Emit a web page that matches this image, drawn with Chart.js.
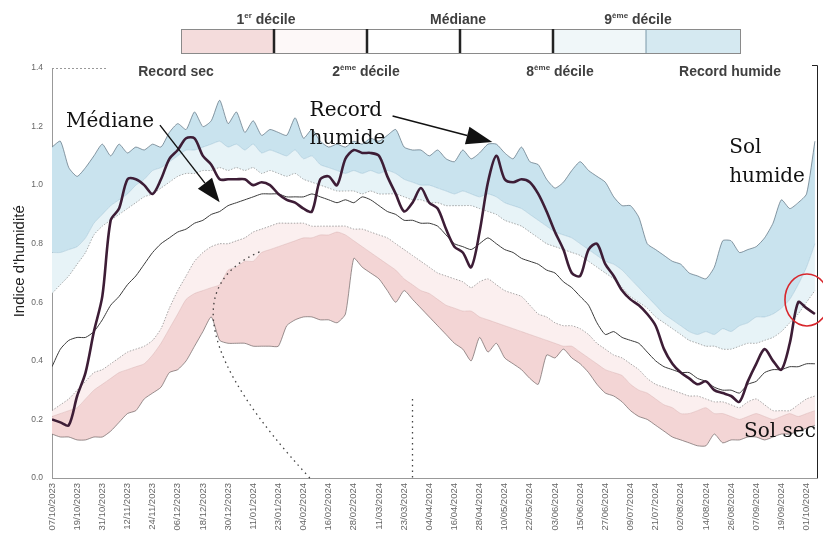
<!DOCTYPE html>
<html lang="fr">
<head>
<meta charset="UTF-8">
<title>Indice d'humidité des sols</title>
<script src="https://cdn.jsdelivr.net/npm/chart.js"></script>
<style>
    html, body { margin: 0; padding: 0; background: #fff; }
    #wrap { position: relative; width: 823px; height: 539px; }
</style>
</head>
<body>
<div id="wrap"><canvas id="sol" width="823" height="539"></canvas></div>
<script>
// un point tous les 4 jours à partir du 07/10/2023
const step = 4;

const tickLabels = ['07/10/2023','19/10/2023','31/10/2023','12/11/2023','24/11/2023','06/12/2023',
    '18/12/2023','30/12/2023','11/01/2024','23/01/2024','04/02/2024','16/02/2024','28/02/2024',
    '11/03/2024','23/03/2024','04/04/2024','16/04/2024','28/04/2024','10/05/2024','22/05/2024',
    '03/06/2024','15/06/2024','27/06/2024','09/07/2024','21/07/2024','02/08/2024','14/08/2024',
    '26/08/2024','07/09/2024','19/09/2024','01/10/2024'];

const recordSec = [0.15,0.14,0.14,0.13,0.13,0.14,0.14,0.16,0.19,0.22,
    0.23,0.27,0.29,0.31,0.36,0.37,0.40,0.45,0.50,0.55,
    0.47,0.46,0.46,0.46,0.45,0.45,0.45,0.45,0.52,0.54,
    0.55,0.55,0.54,0.54,0.53,0.56,0.75,0.72,0.70,0.68,
    0.64,0.60,0.64,0.61,0.58,0.55,0.52,0.49,0.46,0.44,
    0.40,0.48,0.43,0.46,0.41,0.39,0.37,0.34,0.32,0.42,
    0.41,0.44,0.41,0.39,0.36,0.32,0.29,0.28,0.26,0.23,
    0.21,0.20,0.18,0.16,0.14,0.13,0.12,0.11,0.11,0.15,
    0.12,0.13,0.13,0.14,0.14,0.13,0.14,0.15,0.15,0.16,
    0.17,0.18];

const decile1 = [0.21,0.22,0.23,0.24,0.27,0.30,0.32,0.34,0.36,0.37,
    0.38,0.39,0.42,0.46,0.51,0.56,0.61,0.63,0.64,0.65,
    0.66,0.71,0.72,0.74,0.74,0.77,0.78,0.79,0.80,0.81,
    0.82,0.82,0.83,0.83,0.84,0.83,0.81,0.79,0.77,0.75,
    0.73,0.71,0.68,0.66,0.64,0.63,0.61,0.59,0.58,0.57,
    0.57,0.55,0.54,0.53,0.52,0.51,0.50,0.49,0.48,0.47,
    0.46,0.45,0.45,0.43,0.41,0.39,0.37,0.36,0.35,0.32,
    0.30,0.29,0.27,0.25,0.24,0.22,0.22,0.23,0.24,0.22,
    0.22,0.21,0.20,0.21,0.22,0.21,0.20,0.21,0.22,0.21,
    0.22,0.23];

const decile2 = [0.23,0.25,0.27,0.30,0.33,0.36,0.37,0.39,0.41,0.43,
    0.44,0.45,0.47,0.51,0.58,0.64,0.69,0.74,0.77,0.79,
    0.80,0.80,0.81,0.82,0.84,0.85,0.86,0.87,0.87,0.87,
    0.87,0.86,0.86,0.86,0.86,0.86,0.85,0.85,0.84,0.83,
    0.82,0.80,0.78,0.76,0.74,0.72,0.70,0.69,0.68,0.67,
    0.65,0.67,0.68,0.66,0.64,0.63,0.62,0.59,0.56,0.55,
    0.53,0.52,0.52,0.51,0.49,0.46,0.44,0.42,0.41,0.39,
    0.37,0.34,0.32,0.31,0.30,0.29,0.28,0.28,0.27,0.26,
    0.26,0.25,0.24,0.26,0.27,0.25,0.23,0.23,0.23,0.25,
    0.27,0.28];

const mediane = [0.38,0.44,0.47,0.48,0.48,0.50,0.54,0.59,0.62,0.66,
    0.69,0.73,0.77,0.80,0.82,0.84,0.85,0.87,0.88,0.90,
    0.91,0.93,0.94,0.95,0.96,0.97,0.97,0.97,0.96,0.96,
    0.96,0.97,0.96,0.95,0.94,0.95,0.94,0.96,0.95,0.93,
    0.91,0.90,0.88,0.88,0.87,0.87,0.86,0.83,0.80,0.79,
    0.78,0.80,0.82,0.80,0.78,0.77,0.75,0.74,0.73,0.71,
    0.70,0.67,0.65,0.62,0.59,0.53,0.49,0.50,0.48,0.47,
    0.46,0.43,0.40,0.38,0.37,0.36,0.36,0.34,0.33,0.31,
    0.30,0.30,0.29,0.32,0.33,0.36,0.37,0.37,0.38,0.38,
    0.39,0.39];

const decile8 = [0.63,0.66,0.69,0.73,0.77,0.83,0.86,0.88,0.90,0.92,
    0.94,0.96,0.97,0.99,1.01,1.03,1.04,1.04,1.05,1.05,
    1.06,1.05,1.06,1.05,1.06,1.04,1.05,1.04,1.03,1.04,
    1.02,1.01,1.00,0.99,0.98,0.98,0.98,0.97,0.98,0.97,
    0.97,0.97,0.96,0.95,0.95,0.94,0.94,0.93,0.93,0.93,
    0.93,0.92,0.91,0.90,0.88,0.87,0.86,0.84,0.82,0.80,
    0.79,0.78,0.77,0.76,0.74,0.72,0.70,0.68,0.65,0.62,
    0.60,0.58,0.55,0.53,0.51,0.49,0.47,0.46,0.45,0.45,
    0.44,0.44,0.45,0.46,0.46,0.47,0.48,0.50,0.53,0.56,
    0.60,0.64];

const decile9 = [0.77,0.77,0.78,0.79,0.82,0.87,0.90,0.93,0.95,0.97,
    1.00,1.02,1.05,1.06,1.08,1.10,1.12,1.12,1.13,1.14,
    1.15,1.13,1.14,1.12,1.14,1.11,1.12,1.11,1.10,1.12,
    1.09,1.10,1.07,1.06,1.05,1.04,1.05,1.04,1.05,1.04,
    1.05,1.04,1.02,1.01,1.00,1.00,0.99,0.98,0.97,0.98,
    0.97,0.96,0.97,0.96,0.94,0.93,0.92,0.90,0.88,0.86,
    0.84,0.83,0.82,0.80,0.78,0.76,0.74,0.73,0.71,0.68,
    0.65,0.62,0.59,0.56,0.54,0.52,0.50,0.49,0.50,0.49,
    0.51,0.50,0.52,0.53,0.55,0.55,0.56,0.58,0.61,0.66,
    0.72,0.80];

const recordHumide = [1.13,1.15,1.06,1.03,1.06,1.10,1.14,1.10,1.14,1.11,
    1.13,1.12,1.14,1.13,1.18,1.21,1.19,1.25,1.20,1.22,
    1.29,1.21,1.25,1.18,1.22,1.17,1.19,1.18,1.17,1.23,
    1.16,1.19,1.15,1.13,1.14,1.13,1.15,1.14,1.16,1.15,
    1.17,1.19,1.13,1.12,1.12,1.10,1.12,1.09,1.08,1.12,
    1.09,1.11,1.14,1.14,1.11,1.09,1.13,1.08,1.07,1.02,
    0.99,1.01,1.05,1.08,1.05,1.03,1.01,0.96,0.93,0.93,
    0.89,0.80,0.78,0.76,0.74,0.73,0.70,0.69,0.68,0.72,
    0.81,0.81,0.77,0.78,0.79,0.82,0.87,0.95,0.92,0.94,
    0.97,1.15];

// année 2023-2024
const annee = [0.20,0.19,0.18,0.28,0.36,0.50,0.62,0.88,0.92,1.02,
    1.02,1.00,0.97,1.02,1.09,1.12,1.16,1.16,1.10,1.07,
    1.02,1.02,1.02,1.02,1.00,1.01,1.00,0.97,0.95,0.94,
    0.92,0.91,1.02,1.03,1.00,1.09,1.12,1.11,1.11,1.10,
    1.03,0.97,0.91,0.94,0.99,0.94,0.92,0.85,0.79,0.77,
    0.72,0.84,1.01,1.10,1.02,1.01,1.02,1.01,0.97,0.91,
    0.84,0.78,0.70,0.69,0.78,0.80,0.73,0.69,0.64,0.61,
    0.59,0.56,0.52,0.44,0.39,0.36,0.34,0.32,0.33,0.30,
    0.29,0.28,0.26,0.33,0.39,0.44,0.40,0.37,0.46,0.60,
    0.58,0.56];

function pts(arr) {
    return arr.map((v, i) => ({ x: i * step, y: v }));
}

const serif = '"DejaVu Serif", "Liberation Serif", serif';
const sans = '"Liberation Sans", Arial, sans-serif';

// texte avec exposants : [texte, exposant?]
function drawRich(ctx, parts, cx, baseY, size) {
    const fMain = 'bold ' + size + 'px ' + sans;
    const fSup = 'bold ' + Math.round(size * 0.6) + 'px ' + sans;
    let w = 0;
    parts.forEach(p => { ctx.font = p[1] ? fSup : fMain; w += ctx.measureText(p[0]).width; });
    let xx = cx - w / 2;
    parts.forEach(p => {
        ctx.font = p[1] ? fSup : fMain;
        ctx.fillText(p[0], xx, p[1] ? baseY - size * 0.42 : baseY);
        xx += ctx.measureText(p[0]).width;
    });
}

function arrow(ctx, x0, y0, x1, y1, len, half) {
    const ang = Math.atan2(y1 - y0, x1 - x0);
    const bx = x1 - len * Math.cos(ang), by = y1 - len * Math.sin(ang);
    ctx.beginPath();
    ctx.moveTo(x0, y0);
    ctx.lineTo(bx, by);
    ctx.stroke();
    ctx.beginPath();
    ctx.moveTo(x1, y1);
    ctx.lineTo(bx + half * Math.sin(ang), by - half * Math.cos(ang));
    ctx.lineTo(bx - half * Math.sin(ang), by + half * Math.cos(ang));
    ctx.closePath();
    ctx.fill();
}

const decor = {
    id: 'decor',
    afterDraw(chart) {
        const { ctx, chartArea: a, scales: { x, y } } = chart;
        const P = (d, v) => [x.getPixelForValue(d), y.getPixelForValue(v)];
        ctx.save();

        // cadre droit et petit bout de bord haut
        ctx.strokeStyle = '#222';
        ctx.lineWidth = 1;
        ctx.beginPath();
        ctx.moveTo(a.right - 5, a.top - 2.5);
        ctx.lineTo(a.right + 0.5, a.top - 2.5);
        ctx.lineTo(a.right + 0.5, a.bottom);
        ctx.stroke();
        ctx.strokeStyle = '#999';
        ctx.setLineDash([2, 2]);
        ctx.beginPath();
        ctx.moveTo(a.left, a.top + 0.5);
        ctx.lineTo(a.left + 55, a.top + 0.5);
        ctx.stroke();
        ctx.setLineDash([]);

        // légende en barre
        const edges = [181, 274, 367, 460, 553, 646, 740];
        const fills = ['#f4dcdc', '#fdf8f8', '#ffffff', '#ffffff', '#f0f7f9', '#d5e9f1'];
        for (let i = 0; i < 6; i++) {
            ctx.fillStyle = fills[i];
            ctx.fillRect(edges[i], 29, edges[i + 1] - edges[i], 24);
        }
        ctx.strokeStyle = '#8a8a8a';
        ctx.lineWidth = 1;
        ctx.strokeRect(edges[0] + 0.5, 29.5, edges[6] - edges[0], 24);
        ctx.strokeStyle = '#222';
        ctx.lineWidth = 2.5;
        [1, 2, 3, 4].forEach(i => {
            ctx.beginPath();
            ctx.moveTo(edges[i], 29);
            ctx.lineTo(edges[i], 53);
            ctx.stroke();
        });
        ctx.strokeStyle = '#7a98a8';
        ctx.lineWidth = 1;
        ctx.beginPath();
        ctx.moveTo(edges[5], 29);
        ctx.lineTo(edges[5], 53);
        ctx.stroke();

        ctx.fillStyle = '#404040';
        ctx.textAlign = 'left';
        ctx.textBaseline = 'alphabetic';
        drawRich(ctx, [['1', 0], ['er', 1], [' décile', 0]], 266, 24, 14);
        drawRich(ctx, [['Médiane', 0]], 458, 24, 14);
        drawRich(ctx, [['9', 0], ['ème', 1], [' décile', 0]], 638, 24, 14);
        drawRich(ctx, [['Record sec', 0]], 176, 76, 14);
        drawRich(ctx, [['2', 0], ['ème', 1], [' décile', 0]], 366, 76, 14);
        drawRich(ctx, [['8', 0], ['ème', 1], [' décile', 0]], 560, 76, 14);
        drawRich(ctx, [['Record humide', 0]], 730, 76, 14);

        // titre de l'axe Y
        ctx.save();
        const ty = P(0, 0.74)[1];
        ctx.translate(a.left - 33, ty);
        ctx.rotate(-Math.PI / 2);
        ctx.textAlign = 'center';
        ctx.fillStyle = '#222';
        ctx.font = '15px ' + sans;
        ctx.fillText("Indice d'humidité", 0, 5);
        ctx.restore();

        // traits pointillés tracés à la main
        ctx.strokeStyle = 'rgba(20,20,20,0.8)';
        ctx.lineWidth = 1.3;
        ctx.setLineDash([1.5, 4]);
        let p0 = P(99, 0.772), pc = P(45, 0.604), p2 = P(123, 0);
        ctx.beginPath();
        ctx.moveTo(p0[0], p0[1]);
        ctx.quadraticCurveTo(pc[0], pc[1], p2[0], p2[1]);
        ctx.stroke();
        p0 = P(172, 0.27); p2 = P(172, 0);
        ctx.beginPath();
        ctx.moveTo(p0[0], p0[1]);
        ctx.lineTo(p2[0], p2[1]);
        ctx.stroke();
        ctx.setLineDash([]);

        // annotations
        ctx.fillStyle = '#111';
        ctx.strokeStyle = '#111';
        ctx.font = '20px ' + serif;
        ctx.textAlign = 'left';
        let t = P(6.7, 1.199); ctx.fillText('Médiane', t[0], t[1]);
        t = P(122.9, 1.236); ctx.fillText('Record', t[0], t[1]);
        t = P(122.9, 1.14); ctx.fillText('humide', t[0], t[1]);
        t = P(323.1, 1.11); ctx.fillText('Sol', t[0], t[1]);
        t = P(323.1, 1.011); ctx.fillText('humide', t[0], t[1]);
        ctx.save();
        ctx.beginPath();
        ctx.rect(0, 0, a.right, chart.height);
        ctx.clip();
        t = P(330.2, 0.14); ctx.fillText('Sol sec', t[0], t[1]);
        ctx.restore();

        ctx.lineWidth = 1.4;
        let s = P(51.5, 1.205), e = P(80, 0.942);
        arrow(ctx, s[0], s[1], e[0], e[1], 24, 9);
        s = P(162.5, 1.236); e = P(210.1, 1.147);
        arrow(ctx, s[0], s[1], e[0], e[1], 26, 9);

        // cercle rouge en fin de série
        const c = P(360.2, 0.608);
        ctx.strokeStyle = '#d8262c';
        ctx.lineWidth = 1.6;
        ctx.beginPath();
        ctx.ellipse(c[0], c[1], 22, 26, 0, 0, Math.PI * 2);
        ctx.stroke();

        ctx.restore();
    }
};

const bandLine = { pointRadius: 0, tension: 0.2, order: 3 };

new Chart(document.getElementById('sol'), {
    type: 'line',
    data: {
        datasets: [
            Object.assign({ label: 'Record sec', data: pts(recordSec), borderColor: 'rgba(105,95,95,0.85)',
                borderWidth: 0.8, fill: false }, bandLine),
            Object.assign({ label: '1er décile', data: pts(decile1), borderColor: 'rgba(205,160,160,0.6)',
                borderWidth: 0.6, backgroundColor: 'rgb(243,213,213)', fill: 0 }, bandLine),
            Object.assign({ label: '2ème décile', data: pts(decile2), borderColor: 'rgba(110,110,110,0.75)',
                borderDash: [1.5, 1.5], borderWidth: 0.8, backgroundColor: 'rgb(251,239,239)', fill: 1 }, bandLine),
            Object.assign({ label: '8ème décile', data: pts(decile8), borderColor: 'rgba(110,110,110,0.7)',
                borderDash: [1.5, 1.5], borderWidth: 0.8, fill: false }, bandLine),
            Object.assign({ label: '9ème décile', data: pts(decile9), borderColor: 'rgba(125,170,195,0.6)',
                borderWidth: 0.6, backgroundColor: 'rgb(231,243,247)', fill: 3 }, bandLine),
            Object.assign({ label: 'Record humide', data: pts(recordHumide), borderColor: 'rgba(85,105,120,0.85)',
                borderWidth: 0.8, backgroundColor: 'rgb(201,227,238)', fill: 4 }, bandLine),
            { label: 'Médiane', data: pts(mediane), borderColor: '#3a3a3a', borderWidth: 1,
                pointRadius: 0, tension: 0.2, fill: false, order: 2 },
            { label: '2023-2024', data: pts(annee), borderColor: '#3d1d36', borderWidth: 2.6,
                pointRadius: 0, tension: 0.3, fill: false, order: 1 }
        ]
    },
    options: {
        responsive: false,
        animation: false,
        layout: { padding: { top: 68, right: 5, left: 0, bottom: 0 } },
        plugins: { legend: { display: false }, tooltip: { enabled: false } },
        scales: {
            x: {
                type: 'linear',
                min: 0,
                max: 365,
                afterFit(scale) { scale.height = 61; },
                grid: { display: false, drawTicks: false },
                border: { display: true, color: '#999', dash: [2, 2] },
                ticks: {
                    stepSize: 12,
                    includeBounds: false,
                    autoSkip: false,
                    minRotation: 90,
                    maxRotation: 90,
                    padding: 5,
                    color: '#666',
                    font: { family: sans, size: 9.5 },
                    callback: v => tickLabels[v / 12] || ''
                }
            },
            y: {
                min: 0,
                max: 1.4,
                afterFit(scale) { scale.width = 52; },
                grid: { display: false, drawTicks: false },
                border: { display: true, color: '#999', dash: [2, 2] },
                ticks: {
                    stepSize: 0.2,
                    padding: 9,
                    color: '#666',
                    font: { family: sans, size: 8.5 },
                    callback: v => v.toFixed(1)
                }
            }
        }
    },
    plugins: [decor]
});
</script>
</body>
</html>
